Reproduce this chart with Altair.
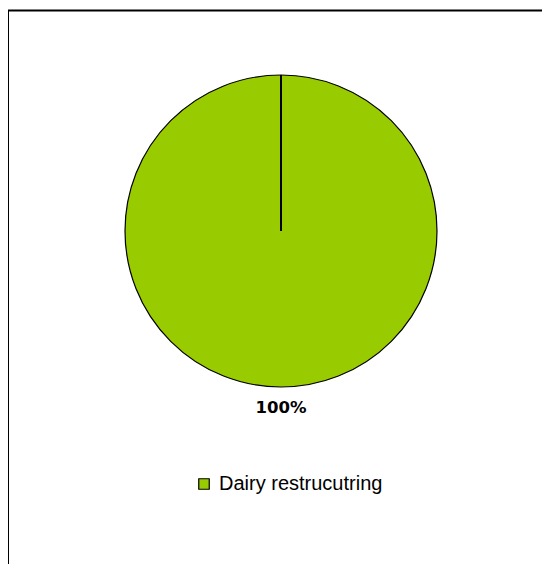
import altair as alt
import pandas as pd

categories = ["Dairy restrucutring"]
values = [100]
labels = ["100%"]

df = pd.DataFrame({"category": categories, "value": values, "label": labels})

CX, CY, R = 273, 223, 156
W, H = 534, 556

base = alt.Chart(df)

pie = base.mark_arc(radius=R, stroke="black", strokeWidth=1.2).encode(
    theta=alt.Theta("value:Q", stack=True),
    color=alt.Color(
        "category:N",
        scale=alt.Scale(domain=categories, range=["#99CC00"]),
        legend=alt.Legend(
            title=None,
            orient="none",
            legendX=186,
            legendY=466,
            symbolType="square",
            symbolSize=110,
            symbolStrokeColor="black",
            symbolStrokeWidth=1.2,
            labelFont="Liberation Sans",
            labelFontSize=20,
            labelOffset=5,
            labelLimit=400,
            labelColor="black",
            padding=0,
        ),
    ),
    x=alt.value(CX),
    y=alt.value(CY),
)

text = base.mark_text(
    radius=177, font="DejaVu Sans", fontSize=16.5, fontWeight="bold", color="black", baseline="middle"
).encode(
    theta=alt.Theta("value:Q", stack=True),
    text="label:N",
    x=alt.value(CX),
    y=alt.value(CY),
)

radial = base.mark_rule(color="black", strokeWidth=2).encode(
    x=alt.value(CX), y=alt.value(CY - R), y2=alt.value(CY)
)

frame_top = base.mark_rule(color="black", strokeWidth=2).encode(
    x=alt.value(-1), x2=alt.value(W + 20), y=alt.value(2.5)
)
frame_left = base.mark_rule(color="black", strokeWidth=2).encode(
    x=alt.value(0), y=alt.value(2), y2=alt.value(H + 20)
)

chart = alt.layer(pie, radial, text, frame_top, frame_left).properties(
    width=W, height=H, autosize=alt.AutoSizeParams(type="none"), padding=0
).configure_view(stroke=None)

chart.save("out.html", embed_options={"renderer": "svg", "actions": False})
